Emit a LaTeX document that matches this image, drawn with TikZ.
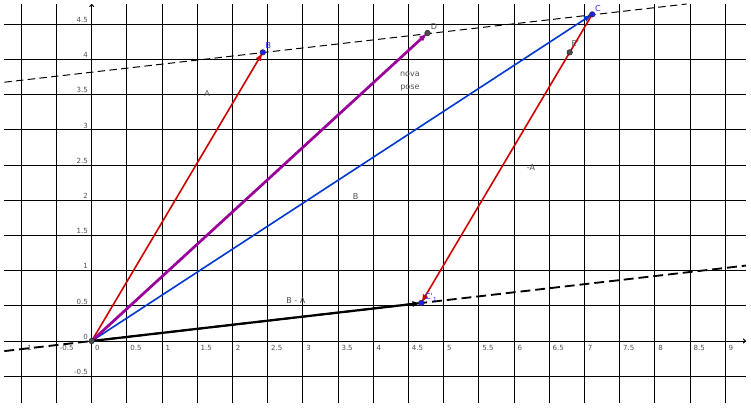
\documentclass[tikz,border=0pt]{standalone}
\usepackage{fontspec}
\setsansfont{DejaVu Sans}
\usepackage{tikz}
\usetikzlibrary{arrows.meta}
\definecolor{vecred}{HTML}{D00000}
\definecolor{vecblue}{HTML}{0038D0}
\definecolor{vecpurple}{HTML}{9A009A}
\definecolor{labelgray}{HTML}{505050}
\definecolor{ptblue}{HTML}{2020FF}

\begin{document}
\begin{tikzpicture}[x=2cm,y=2cm,
    gridline/.style={line width=0.8pt, black},
    vec/.style={line width=1.3pt, -{Latex[length=7pt,width=5pt]}},
    ticklbl/.style={font=\sffamily\fontsize{5.7}{6}\selectfont, text=labelgray, inner sep=0pt},
    lbl/.style={font=\sffamily\fontsize{6.5}{10.5}\selectfont, text=labelgray, inner sep=0pt},
    pt/.style={circle, draw=black!85, fill=black!70, inner sep=0pt, minimum size=4.5pt},
    bpt/.style={pt, fill=ptblue}]
  \useasboundingbox (-1.3026,-0.994) rectangle (9.365,4.844);

  % Grid
  \foreach \gx in {-1,-0.5,...,9}
    \draw[gridline] (\gx,-0.881) -- (\gx,4.787);
  \foreach \gy in {-0.5,0,...,4.5}
    \draw[gridline] (-1.241,\gy) -- (9.294,\gy);

  % Axes
  \coordinate (xL) at (-1.241,0);
  \coordinate (xR) at (9.294,0);
  \coordinate (yB) at (0,-0.881);
  \coordinate (yT) at (0,4.787);
  \draw[gridline, -{To[length=2.5pt,width=4pt]}] (xL) -- (xR);
  \draw[gridline, -{To[length=2.5pt,width=4pt]}] (yB) -- (yT);

  % Tick labels
  \foreach \gx [count=\i] in {-1,-0.5,0,0.5,1,1.5,2,2.5,3,3.5,4,4.5,5,5.5,6,6.5,7,7.5,8,8.5,9}
    \node[ticklbl, anchor=north west] (xt\i) at (\gx+0.045,-0.055) {\gx};
  \foreach \gy [count=\i] in {-0.5,0,0.5,1,1.5,2,2.5,3,3.5,4,4.5}
    \node[ticklbl, anchor=south east] (yt\i) at (-0.05,\gy+0.02) {\gy};

  % Points
  \coordinate (O) at (0,0);
  \coordinate (B) at (2.43,4.10);
  \coordinate (C) at (7.11,4.64);
  \coordinate (D) at (4.77,4.375);
  \coordinate (E) at (6.79,4.10);
  \coordinate (C1) at (4.68,0.54);

  % Dashed lines
  \coordinate (topL) at (-1.241,3.676);
  \coordinate (topR) at (8.45,4.787);
  \coordinate (botL) at (-1.241,-0.143);
  \coordinate (botR) at (9.294,1.072);
  \draw[line width=0.8pt, dash pattern=on 6pt off 3.5pt] (topL) -- (topR);
  \draw[line width=1.5pt, dash pattern=on 8pt off 4pt] (botL) -- (botR);

  % Vectors
  \draw[vec, vecblue] (O) -- (C);
  \draw[vec, vecred] (O) -- (B);
  \draw[vec, vecpurple, line width=2.2pt] (O) -- (D);
  \draw[vec, vecred] (C) -- (C1);
  \draw[vec, black, line width=1.8pt] (O) -- (C1);

  \node[pt] (pO) at (O) {};
  \node[bpt] (pB) at (B) {};
  \node[bpt] (pC) at (C) {};
  \node[pt] (pD) at (D) {};
  \node[pt] (pE) at (E) {};
  \node[bpt] (pC1) at (C1) {};

  % Labels
  \node[lbl, text=ptblue] (lB) at (2.51,4.19) {B};
  \node[lbl, text=ptblue] (lC) at (7.19,4.72) {C};
  \node[lbl] (lD) at (4.86,4.47) {D};
  \node[lbl] (lE) at (6.87,4.22) {E'};
  \node[lbl, text=ptblue] (lC1) at (4.82,0.62) {C'\textsubscript{1}};
  \node[lbl] (vA) at (1.64,3.51) {A};
  \node[lbl] (vB) at (3.75,2.05) {B};
  \node[lbl] (vmA) at (6.24,2.46) {-A};
  \node[lbl] (vBA) at (2.90,0.58) {B - A};
  \node[lbl, align=center] (nova) at (4.52,3.69) {nova\\pose};
\end{tikzpicture}
\end{document}
